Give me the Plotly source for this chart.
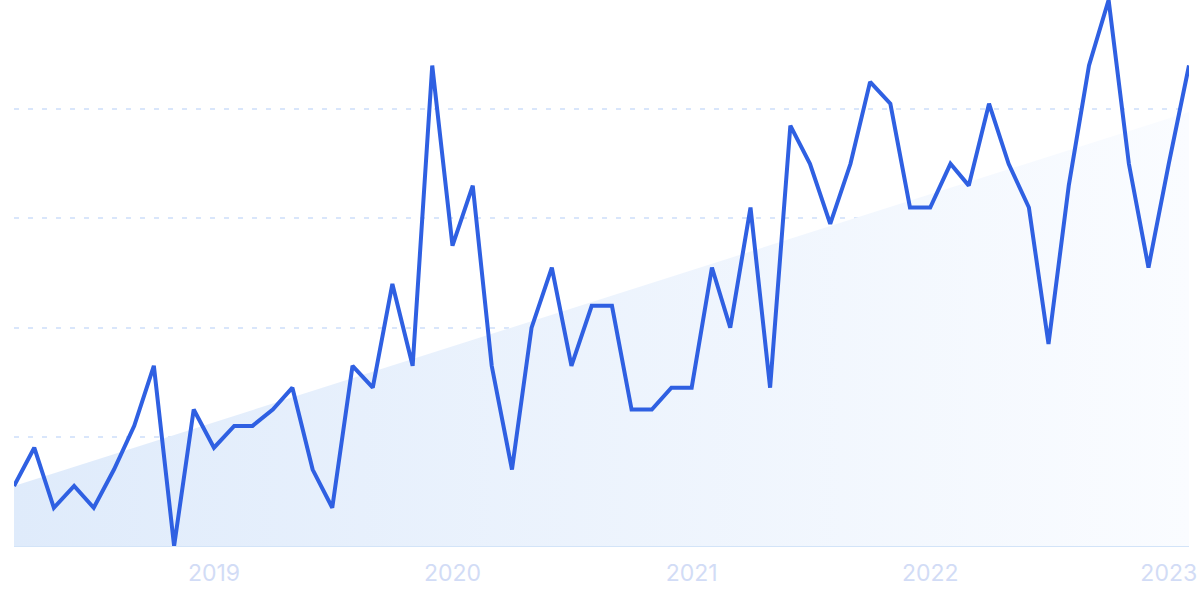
import pandas as pd
import plotly.graph_objects as go

months = pd.date_range("2018-03-01", periods=60, freq="MS")
values = [11, 18, 7, 11, 7, 14, 22, 33, 0, 25,
          18, 22, 22, 25, 29, 14, 7, 33, 29, 48,
          33, 88, 55, 66, 33, 14, 40, 51, 33, 44,
          44, 25, 25, 29, 29, 51, 40, 62, 29, 77,
          70, 59, 70, 85, 81, 62, 62, 70, 66, 81,
          70, 62, 37, 66, 88, 100, 70, 51, 70, 88]
trend_ends = [11, 79.5]
tick_dates = ["2019-01-01", "2020-01-01", "2021-01-01", "2022-01-01", "2023-01-01"]
tick_labels = ["2019", "2020", "2021", "2022", "2023"]
y_grid = [0, 20, 40, 60, 80, 100]

fig = go.Figure()
fig.add_trace(go.Scatter(
    x=[months[0], months[-1]], y=trend_ends, mode="lines",
    line=dict(width=0), fill="tozeroy",
    fillgradient=dict(type="horizontal",
                      colorscale=[[0, "rgba(223,235,251,1)"], [1, "rgba(250,252,255,1)"]]),
    hoverinfo="skip", showlegend=False,
))
fig.add_trace(go.Scatter(
    x=months, y=values, mode="lines",
    line=dict(color="#2f60e2", width=4),
    cliponaxis=False, showlegend=False,
))

fig.update_layout(
    width=1200, height=599,
    margin=dict(l=14, r=11, t=0, b=53),
    paper_bgcolor="white", plot_bgcolor="white",
    font=dict(family="Inter", size=23, color="#d2dcf6"),
)
fig.update_xaxes(
    range=[months[0], months[-1]],
    tickvals=pd.to_datetime(tick_dates), ticktext=tick_labels,
    showgrid=False, zeroline=False, showline=False, ticks="",
    ticklabelstandoff=11, automargin=False,
)
fig.update_yaxes(
    range=[0, 100], tickvals=y_grid, showticklabels=False,
    showgrid=True, gridcolor="#d9e6fb", griddash="5px,9px", gridwidth=1.5,
    zeroline=True, zerolinecolor="#d3e4f8", zerolinewidth=2, automargin=False,
)
fig.write_html("out.html", config={"displayModeBar": False},
               post_script="document.body.style.margin='0';document.body.style.overflow='hidden';")
